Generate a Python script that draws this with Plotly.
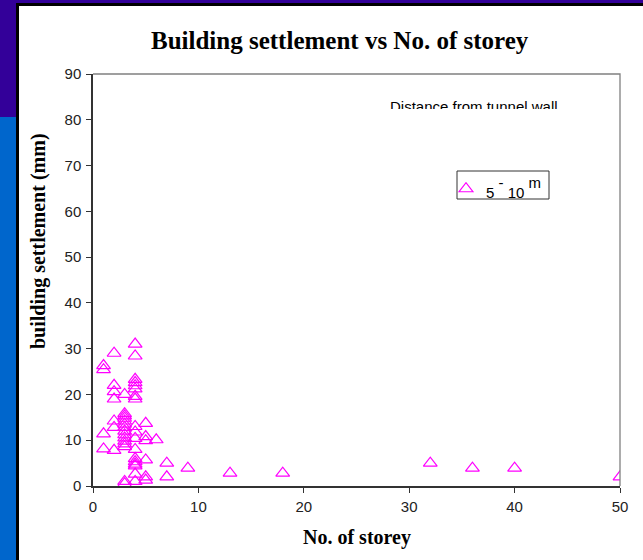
import plotly.graph_objects as go

W, H = 643, 560

# Number of storeys and measured building settlement (mm), buildings 5-10 m from the tunnel wall
storeys = [
    1, 1, 1, 1,
    2, 2, 2, 2, 2, 2, 2,
    3, 3, 3, 3, 3, 3, 3, 3, 3, 3, 3, 3, 3, 3, 3,
    4, 4, 4, 4, 4, 4, 4, 4, 4, 4, 4, 4, 4, 4, 4, 4, 4, 4,
    5, 5, 5, 5, 5, 5,
    6,
    7, 7,
    9, 13, 18, 32, 36, 40, 50,
]
settlement_mm = [
    26.3, 25.4, 11.4, 8.1,
    29.0, 22.0, 20.6, 19.0, 14.2, 12.8, 7.8,
    20.0, 15.8, 15.3, 14.8, 14.2, 13.5, 12.8, 12.0, 11.2, 10.5, 9.8, 9.2, 8.6, 1.0, 0.5,
    31.0, 28.4, 23.3, 22.6, 21.9, 21.2, 19.6, 19.0, 13.0, 11.8, 10.4, 8.0, 6.0, 5.3, 4.8, 4.4, 2.6, 1.0,
    13.7, 10.8, 9.9, 5.7, 2.0, 1.3,
    10.1,
    5.0, 2.0,
    3.9, 2.8, 2.8, 5.0, 3.9, 3.9, 2.0,
]

x_ticks = [0, 10, 20, 30, 40, 50]
y_ticks = [0, 10, 20, 30, 40, 50, 60, 70, 80, 90]

title_text = "Building settlement vs No. of storey"
x_title = "No. of storey"
y_title = "building settlement (mm)"
note_text = "Distance from tunnel wall"


def low(s):
    return f"<sub><span style='font-size:15px'>{s}</span></sub>"


def high(s):
    return f"<sup><span style='font-size:15px'>{s}</span></sup>"


series_name = f"{low('5')} {high('-')} {low('10')} {high('m')}"


def px(x):
    return x / W


def py(y):
    return 1 - y / H


# plot-area box in pixels
L, R, T, B = 93, 620, 74, 486

fig = go.Figure()

fig.add_trace(go.Scatter(
    x=storeys, y=settlement_mm, mode="markers", name=series_name,
    marker=dict(symbol="triangle-up-open", size=12, color="#FF00FF",
                line=dict(width=1.2, color="#FF00FF")),
    xaxis="x", yaxis="y",
))

# caption text sits in a thin strip so its lower part is cut off
fig.add_trace(go.Scatter(
    x=[(390 - L) / (R - L)], y=[0.02],
    mode="text", text=[note_text], textposition="middle right",
    textfont=dict(family="Liberation Sans, Arial", size=15, color="#000000"),
    cliponaxis=True, showlegend=False, hoverinfo="skip",
    xaxis="x2", yaxis="y2",
))

axis_font = dict(family="Liberation Sans, Arial", size=15, color="#222222")

fig.update_layout(
    width=W, height=H,
    margin=dict(l=0, r=0, t=0, b=0),
    paper_bgcolor="#330099",
    plot_bgcolor="rgba(0,0,0,0)",
    template="none",
    showlegend=True,
    legend=dict(
        x=px(446), y=py(189), xanchor="left", yanchor="middle",
        bgcolor="rgba(0,0,0,0)", borderwidth=0,
        font=dict(family="Liberation Sans, Arial", size=15, color="#000000"),
        itemwidth=30, tracegroupgap=0,
    ),
    xaxis=dict(
        domain=[px(L), px(R)], range=[0, 50], anchor="y",
        tickvals=x_ticks, ticktext=[str(v) for v in x_ticks],
        ticks="outside", ticklen=5, tickwidth=1, tickcolor="#333333",
        showline=True, linecolor="#333333", linewidth=2,
        showgrid=False, zeroline=False, tickfont=axis_font,
        automargin=False, ticklabelstandoff=1,
    ),
    yaxis=dict(
        domain=[py(B), py(T)], range=[0, 90], anchor="x",
        tickvals=y_ticks, ticktext=[str(v) for v in y_ticks],
        ticks="outside", ticklen=5, tickwidth=1, tickcolor="#333333",
        showline=True, linecolor="#333333", linewidth=1.5,
        showgrid=False, zeroline=False, tickfont=axis_font,
        automargin=False, ticklabelstandoff=2,
    ),
    xaxis2=dict(domain=[px(L + 5), px(R - 5)], range=[(L + 5 - L) / (R - L), (R - 5 - L) / (R - L)],
                anchor="y2", visible=False),
    yaxis2=dict(domain=[py(109), py(92)], range=[0, 1], anchor="x2", visible=False),
)

# slide background and white panel
fig.add_shape(type="rect", xref="paper", yref="paper", layer="below",
              x0=0, x1=px(16), y0=0, y1=py(117),
              fillcolor="#0066CC", line_width=0)
fig.add_shape(type="rect", xref="paper", yref="paper", layer="below",
              x0=px(16), x1=1.01, y0=-0.01, y1=py(3),
              fillcolor="#000000", line_width=0)
fig.add_shape(type="rect", xref="paper", yref="paper", layer="below",
              x0=px(19), x1=1.01, y0=-0.01, y1=py(6),
              fillcolor="#FFFFFF", line_width=0)
# grey top and right edges of the plot area
fig.add_shape(type="path", xref="paper", yref="paper", layer="above",
              path=f"M {px(L)},{py(T)} L {px(R)},{py(T)} L {px(R)},{py(B)}",
              line=dict(color="#808080", width=1.3))
# legend box
fig.add_shape(type="rect", xref="paper", yref="paper", layer="above",
              x0=px(457), x1=px(549), y0=py(199), y1=py(171),
              line=dict(color="#333333", width=1), fillcolor="rgba(0,0,0,0)")

serif = "Liberation Serif, Times New Roman"
fig.add_annotation(text="<b>" + title_text + "</b>", xref="paper", yref="paper",
                   x=px(340), y=py(41), xanchor="center", yanchor="middle", showarrow=False,
                   font=dict(family=serif, size=25, color="#000000"))
fig.add_annotation(text="<b>" + x_title + "</b>", xref="paper", yref="paper",
                   x=px(357), y=py(537), xanchor="center", yanchor="middle", showarrow=False,
                   font=dict(family=serif, size=20, color="#000000"))
fig.add_annotation(text="<b>" + y_title + "</b>", xref="paper", yref="paper",
                   x=px(38), y=py(241), xanchor="center", yanchor="middle", showarrow=False,
                   textangle=-90,
                   font=dict(family=serif, size=20, color="#000000"))

fig.write_html("out.html")
